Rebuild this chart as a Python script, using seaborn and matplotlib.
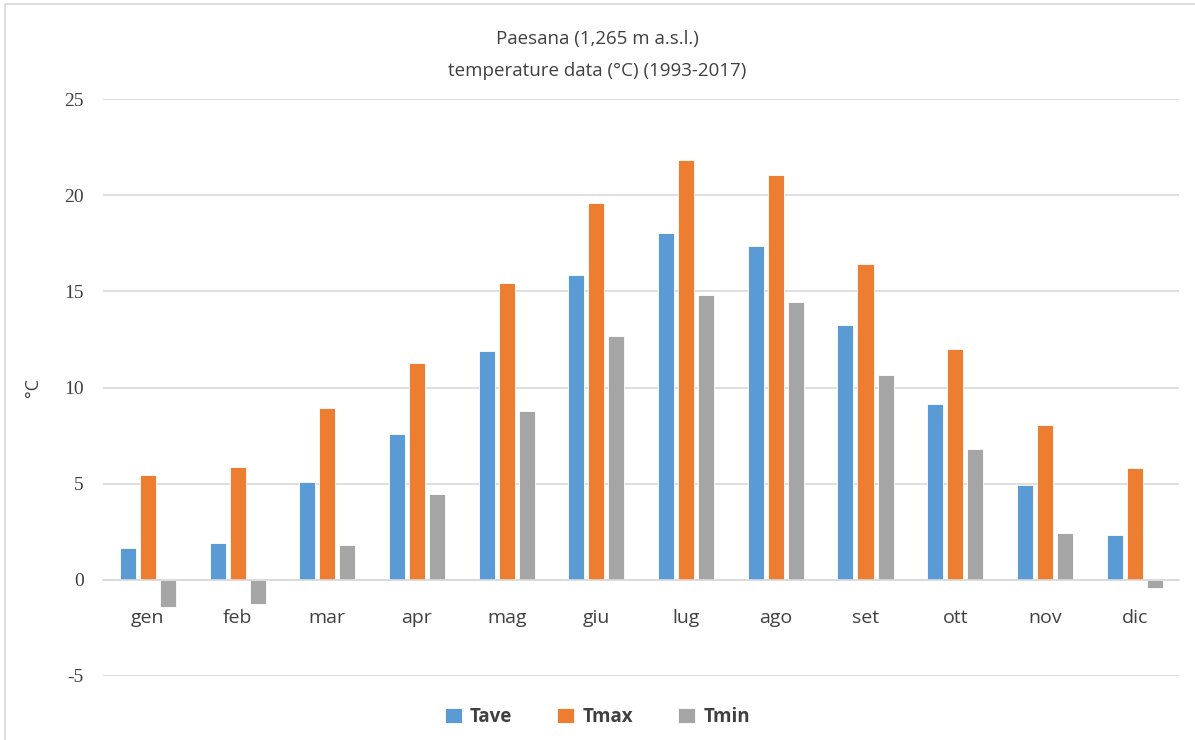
import matplotlib

matplotlib.use("Agg")
import matplotlib.pyplot as plt
import pandas as pd
import seaborn as sns

# Monthly temperature data
months = ["gen", "feb", "mar", "apr", "mag", "giu", "lug", "ago", "set", "ott", "nov", "dic"]
t_ave = [1.66, 1.92, 5.09, 7.59, 11.92, 15.85, 18.05, 17.34, 13.27, 9.13, 4.92, 2.32]
t_max = [5.46, 5.87, 8.94, 11.28, 15.45, 19.61, 21.86, 21.03, 16.43, 11.99, 8.04, 5.84]
t_min = [-1.40, -1.25, 1.82, 4.48, 8.80, 12.68, 14.81, 14.43, 10.67, 6.79, 2.46, -0.42]
series = ["Tave", "Tmax", "Tmin"]
colors = ["#5B9BD5", "#ED7D31", "#A5A5A5"]

df = pd.DataFrame({
    "month": months * 3,
    "series": [s for s in series for _ in months],
    "value": t_ave + t_max + t_min,
})

sns.set_style("white")
plt.rcParams["font.family"] = ["Open Sans", "DejaVu Sans"]
plt.rcParams["axes.unicode_minus"] = False

fig = plt.figure(figsize=(11.95, 7.4), dpi=100)
ax = fig.add_axes([0.0862, 0.0865, 0.9008, 0.7795])

sns.barplot(
    data=df,
    x="month",
    y="value",
    hue="series",
    palette=dict(zip(series, colors, strict=True)),
    width=0.67,
    gap=0.2,
    edgecolor="white",
    linewidth=0.6,
    saturation=1,
    legend=True,
    ax=ax,
)

ax.set_ylim(-5, 25)
ax.set_yticks(range(-5, 26, 5))
ax.set_xlim(-0.5, len(months) - 0.5)
ax.yaxis.grid(True, color="#D9D9D9", linewidth=1.2)
ax.set_axisbelow(True)

for side in ["top", "right", "left"]:
    ax.spines[side].set_visible(False)
# category axis crosses at zero, labels follow it
ax.spines["bottom"].set_position(("data", 0))
ax.spines["bottom"].set_color("#D9D9D9")
ax.spines["bottom"].set_linewidth(1.2)
ax.tick_params(axis="x", length=0, pad=21, labelsize=14, labelcolor="#404040")
ax.tick_params(axis="y", length=0, pad=14, labelsize=14, labelcolor="#404040")
for lab in ax.get_yticklabels():
    lab.set_family(["Liberation Serif", "DejaVu Serif"])

ax.set_xlabel("")
ax.set_ylabel("°C", fontsize=13, color="#404040", labelpad=16)

title_font = ["Liberation Sans Narrow", "Open Sans"]
fig.text(0.5, 0.947, "Paesana (1,265 m a.s.l.)", ha="center", va="center",
         fontsize=13.5, color="#404040", family=title_font)
fig.text(0.5, 0.904, "temperature data (°C) (1993-2017)", ha="center", va="center",
         fontsize=13.5, color="#404040", family=title_font)

handles, labels = ax.get_legend_handles_labels()
ax.legend_.remove()
fig.legend(
    handles,
    labels,
    loc="center",
    bbox_to_anchor=(0.5, 0.031),
    ncol=3,
    frameon=False,
    handlelength=0.9,
    handleheight=0.9,
    handletextpad=0.45,
    columnspacing=2.4,
    prop={"size": 13.5, "weight": "bold"},
    labelcolor="#404040",
)

# light outer frame like the original chart area
fig.patches.append(plt.Rectangle((0.004, -0.01), 1.0, 1.004, transform=fig.transFigure,
                                 fill=False, edgecolor="#D9D9D9", linewidth=1.2))

fig.savefig("out.png", dpi=100)
